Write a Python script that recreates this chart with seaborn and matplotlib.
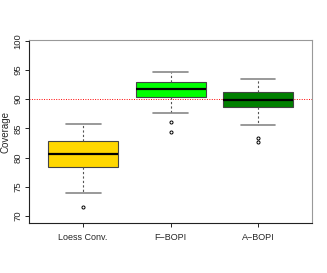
import numpy as np
import matplotlib
matplotlib.use("Agg")
import matplotlib.pyplot as plt
import seaborn as sns

# five-number summaries
methods = ["Loess Conv.", "F\u2212BOPI", "A\u2212BOPI"]
whis_lo = [74.0, 87.7, 85.5]
q1 = [78.4, 90.3, 88.7]
medians = [80.6, 91.7, 89.9]
q3 = [82.8, 92.9, 91.3]
whis_hi = [85.8, 94.7, 93.5]
outliers = [[71.6], [86.1, 84.3], [83.4, 82.7]]
box_colors = ["#FFD700", "#00FF00", "#008000"]
target = 90
yticks = [70, 75, 80, 85, 90, 95, 100]

sns.set_theme(style="white")
plt.rcParams["font.family"] = ["Liberation Sans", "DejaVu Sans"]

stats = []
for i, m in enumerate(methods):
    stats.append({"label": m, "whislo": whis_lo[i], "q1": q1[i], "med": medians[i],
                  "q3": q3[i], "whishi": whis_hi[i], "fliers": outliers[i]})

fig = plt.figure(figsize=(3.27, 2.73), dpi=100)
ax = fig.add_axes([0.089, 0.183, 0.865, 0.67])

ax.axhline(target, color="red", linestyle=(0, (1, 1.5)), lw=0.7, zorder=1)

bp = ax.bxp(stats, positions=[1, 2, 3], widths=0.8, patch_artist=True,
            showfliers=True,
            boxprops=dict(edgecolor="#444444", linewidth=0.8),
            medianprops=dict(color="black", linewidth=1.6),
            whiskerprops=dict(color="#555555", linewidth=0.8, linestyle=(0, (2, 2))),
            capprops=dict(color="#888888", linewidth=1.2),
            capwidths=0.4,
            flierprops=dict(marker="o", markersize=2.2, markerfacecolor="none",
                            markeredgecolor="black", markeredgewidth=0.7))
for patch, c in zip(bp["boxes"], box_colors):
    patch.set_facecolor(c)
    patch.set_zorder(2)

ax.set_xlim(0.383, 3.617)
ax.set_ylim(68.8, 100.1)
ax.set_yticks(yticks)
ax.set_yticklabels([str(t) for t in yticks], rotation=90, va="center", fontsize=6.8)
ax.set_xticks([1, 2, 3])
ax.set_xticklabels(methods, fontsize=6.5)
ax.set_ylabel("Coverage", fontsize=7, labelpad=2)
ax.tick_params(axis="y", length=3, width=0.6, color="black", pad=2, left=True)
ax.tick_params(axis="x", length=3, width=0.6, color="black", pad=4, bottom=True)

for side in ["left", "bottom"]:
    ax.spines[side].set_color("#222222")
    ax.spines[side].set_linewidth(0.8)
for side in ["top", "right"]:
    ax.spines[side].set_color("#999999")
    ax.spines[side].set_linewidth(0.8)

fig.savefig("out.png", dpi=100)
